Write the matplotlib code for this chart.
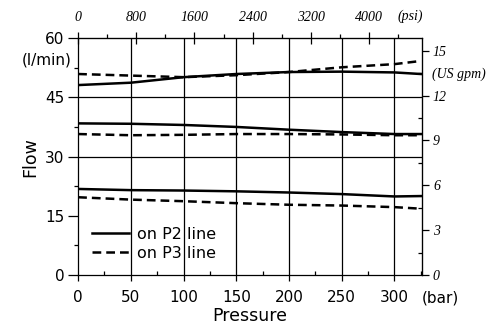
import matplotlib.pyplot as plt
from matplotlib.ticker import MultipleLocator

# pressure points (bar)
pressure = [0, 50, 100, 150, 200, 250, 300, 325]

# flow (l/min)
p2_high = [48.1, 48.7, 50.1, 50.9, 51.4, 51.5, 51.3, 50.9]
p3_high = [50.9, 50.5, 50.1, 50.6, 51.4, 52.6, 53.4, 54.2]
p2_mid = [38.4, 38.3, 38.0, 37.5, 36.8, 36.2, 35.7, 35.7]
p3_mid = [35.7, 35.4, 35.5, 35.7, 35.7, 35.6, 35.4, 35.4]
p2_low = [21.8, 21.5, 21.4, 21.2, 20.9, 20.5, 19.9, 20.0]
p3_low = [19.7, 19.1, 18.7, 18.2, 17.8, 17.6, 17.2, 16.8]

BAR_PSI = 14.5038
GPM_LPM = 3.78541

fig = plt.figure(figsize=(5.04, 3.31), dpi=100)
ax = fig.add_axes([0.155, 0.169, 0.682, 0.716])

dash = (3.5, 2.0)
ax.plot(pressure, p2_high, color='black', lw=1.8, label="on P2 line")
ax.plot(pressure, p3_high, color='black', lw=1.8, dashes=dash, label="on P3 line")
ax.plot(pressure, p2_mid, color='black', lw=1.8)
ax.plot(pressure, p3_mid, color='black', lw=1.8, dashes=dash)
ax.plot(pressure, p2_low, color='black', lw=1.8)
ax.plot(pressure, p3_low, color='black', lw=1.8, dashes=dash)

ax.set_xlim(0, 326)
ax.set_ylim(0, 60)

# grid: vertical lines every 50 bar, horizontal at 30 and 45
for x in range(50, 301, 50):
    ax.axvline(x, color='black', lw=0.9, zorder=0)
for y in (30, 45):
    ax.axhline(y, color='black', lw=0.9, zorder=0)

ax.xaxis.set_major_locator(MultipleLocator(50))
ax.xaxis.set_minor_locator(MultipleLocator(25))
ax.yaxis.set_major_locator(MultipleLocator(15))
ax.yaxis.set_minor_locator(MultipleLocator(7.5))
ax.tick_params(axis='x', which='major', direction='out', length=4, width=0.9,
               labelsize=11, pad=7)
ax.tick_params(axis='y', which='major', direction='out', length=7, width=0.9,
               labelsize=11, pad=3)
ax.tick_params(axis='x', which='minor', direction='in', length=3, width=0.9)
ax.tick_params(axis='y', which='minor', direction='out', length=3, width=0.9)
for s in ax.spines.values():
    s.set_linewidth(0.9)

serif = {'family': 'Liberation Serif', 'fontstyle': 'italic', 'size': 10}

top = ax.secondary_xaxis('top', functions=(lambda b: b * BAR_PSI, lambda p: p / BAR_PSI))
top.xaxis.set_minor_locator(MultipleLocator(400))
top.tick_params(which='major', direction='inout', length=8, width=0.9, pad=6)
top.tick_params(which='minor', direction='out', length=3, width=0.9)
top.set_xticks([0, 800, 1600, 2400, 3200, 4000])
top.set_xticklabels(['0', '800', '1600', '2400', '3200', '4000'], **serif)

right = ax.secondary_yaxis('right', functions=(lambda l: l / GPM_LPM, lambda g: g * GPM_LPM))
right.yaxis.set_minor_locator(MultipleLocator(1.5))
right.tick_params(which='major', direction='out', length=5, width=0.9, pad=3)
right.tick_params(which='minor', direction='in', length=3, width=0.9)
right.set_yticks([0, 3, 6, 9, 12, 15])
right.set_yticklabels(['0', '3', '6', '9', '12', '15'], **serif)

ax.set_xlabel("Pressure", fontsize=12.5, labelpad=1)
ax.set_ylabel("Flow", fontsize=12.5, labelpad=4)

fig.text(0.143, 0.819, "(l/min)", ha='right', va='center', fontsize=11)
fig.text(0.873, 0.1, "(bar)", ha='center', va='center', fontsize=11)
fig.text(0.788, 0.952, "(psi)", ha='left', va='center', **serif)
fig.text(0.857, 0.777, "(US gpm)", ha='left', va='center', **serif)

ax.legend(loc='lower left', bbox_to_anchor=(0.0, 0.0), frameon=False,
          fontsize=11.5, handlelength=2.3, handletextpad=0.5, labelspacing=0.25)

fig.savefig("out.png", dpi=100)
